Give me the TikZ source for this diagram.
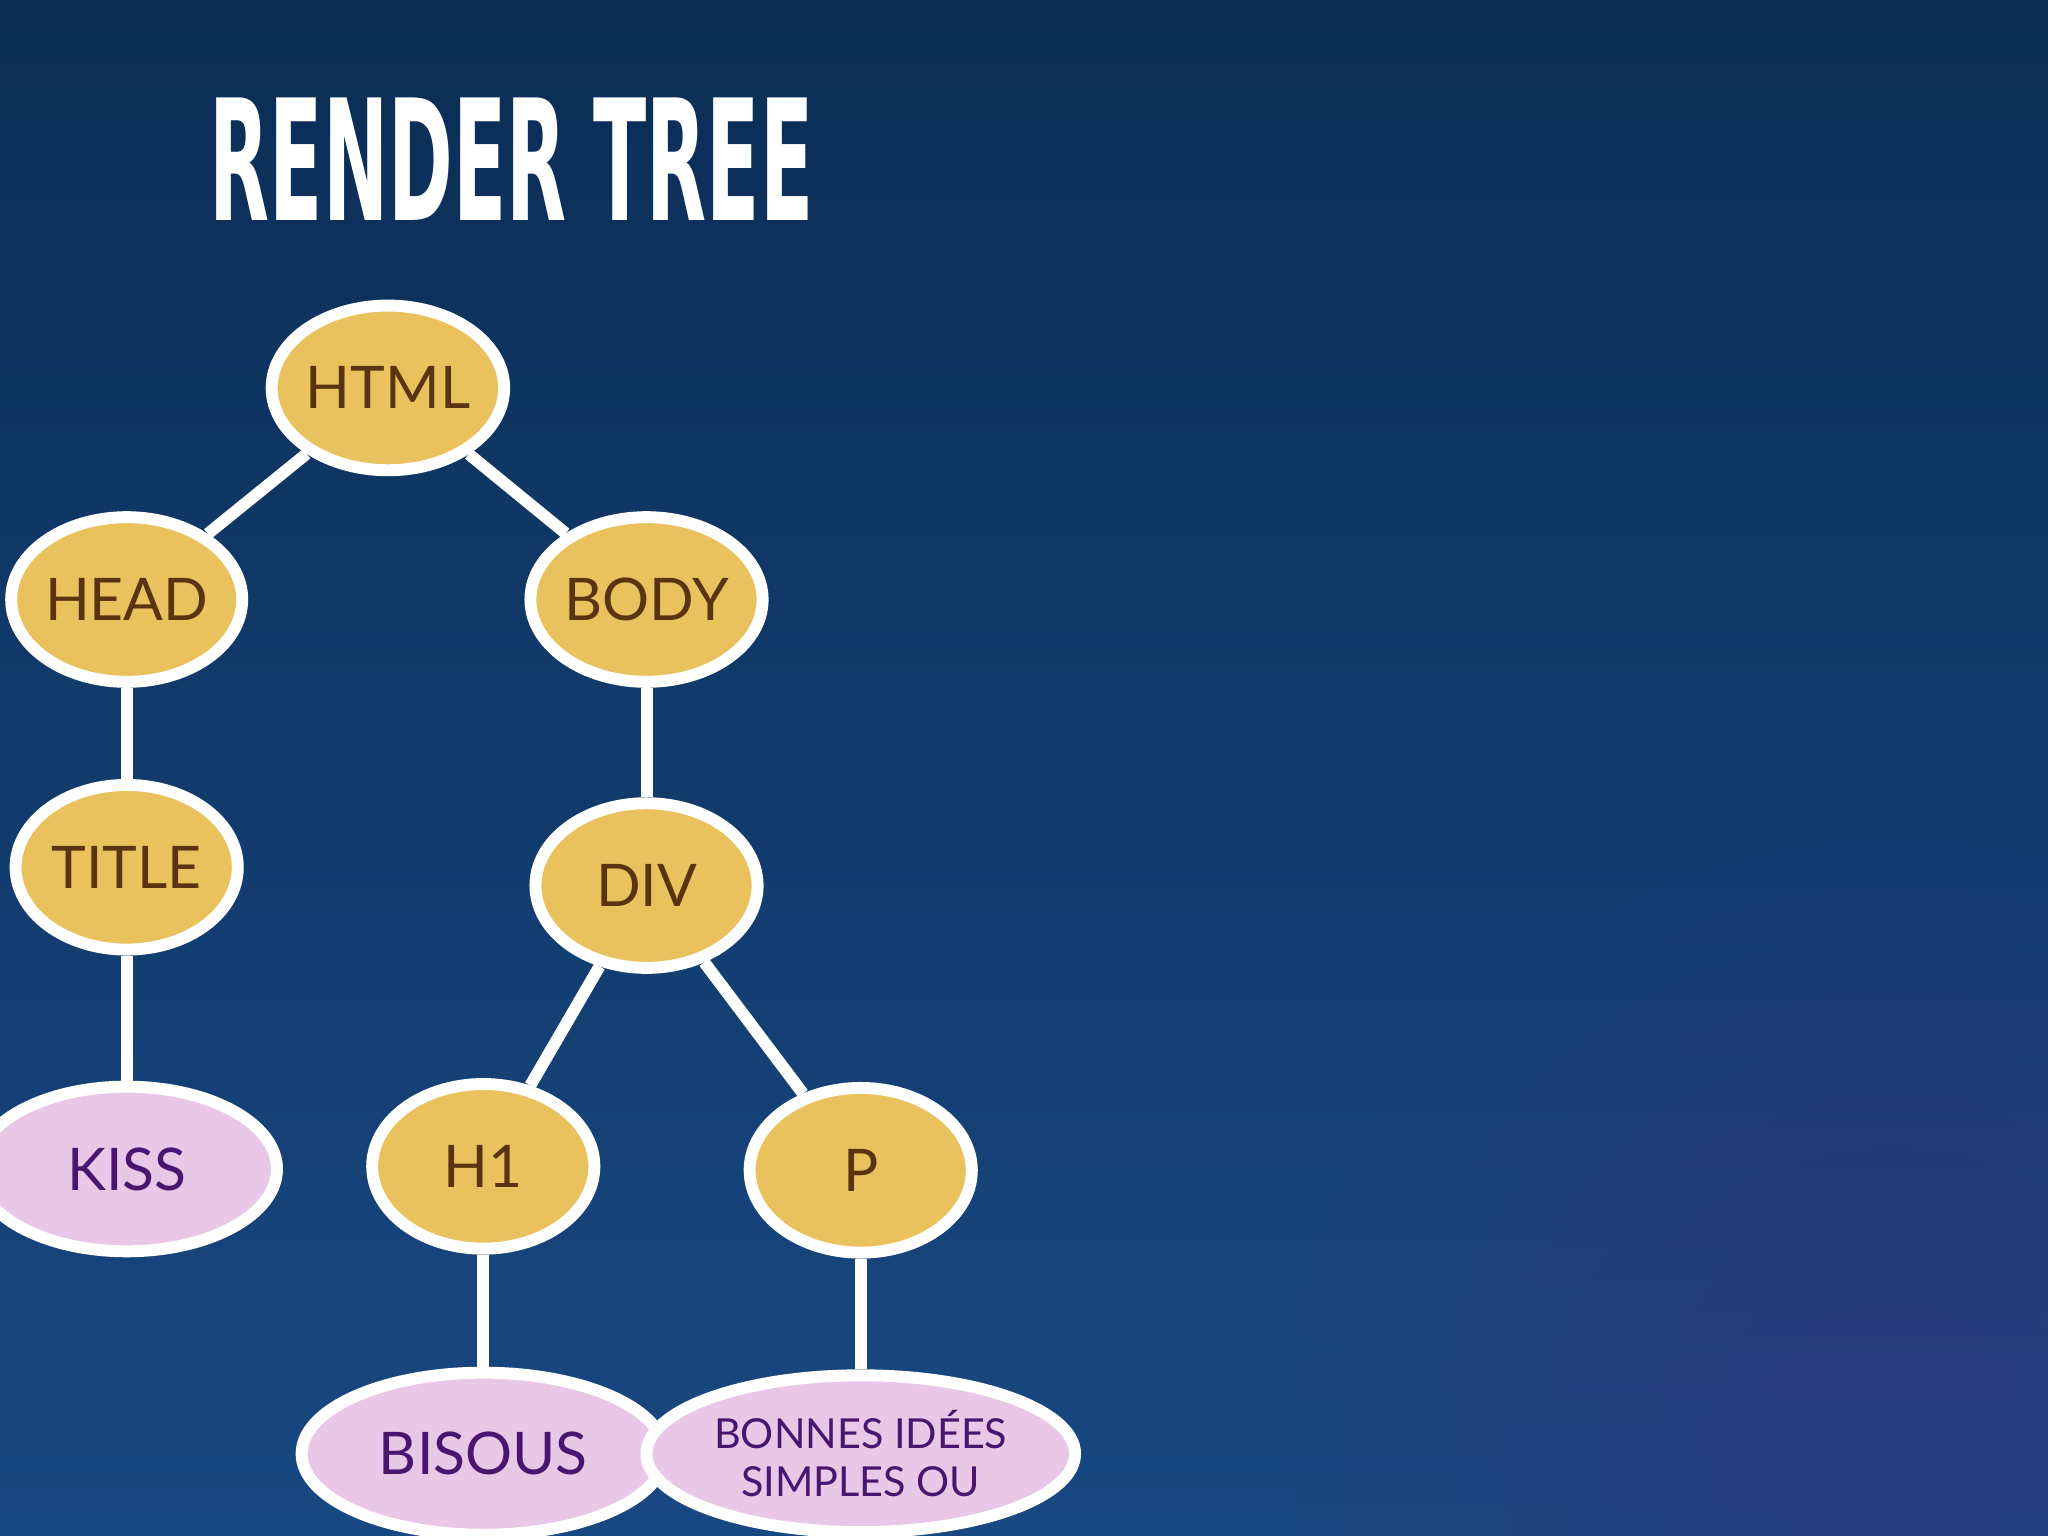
\documentclass[tikz,border=0pt]{standalone}
\usepackage{fontspec}
\setmainfont{Lato}
\newfontfamily\titlefont{DejaVu Sans Condensed}
\usetikzlibrary{shapes.geometric}
\definecolor{gold}{HTML}{E9C25E}
\definecolor{goldtext}{HTML}{5A3410}
\definecolor{pinkf}{HTML}{E8C8E6}
\definecolor{purpletext}{HTML}{4A1570}
\definecolor{glow}{HTML}{3A3A80}
\pgfdeclarelayer{back}\pgfdeclarelayer{edge}
\pgfsetlayers{back,edge,main}
\tikzset{
 tag/.style={ellipse,draw=white,line width=2.6pt,fill=gold,text=goldtext,inner sep=0pt,minimum width=1.70cm,minimum height=1.26cm,font=\fontsize{12.8}{12.8}\selectfont},
 txt/.style={tag,fill=pinkf,text=purpletext},
 link/.style={draw=white,line width=2.6pt}
}
\begin{document}
\begin{tikzpicture}[x=0.01cm,y=-0.01cm]
\useasboundingbox (0,0) rectangle (1568,1176);
\clip (0,0) rectangle (1568,1176);
\begin{pgfonlayer}{back}
\shade[top color={rgb,255:red,11;green,45;blue,85},bottom color={rgb,255:red,24;green,72;blue,130}] (0,0) rectangle (1568,1176);
\foreach \r in {1.0,1.4,...,4.6}{\fill[glow,opacity=0.07] (1450,1100) circle (\r cm);}
\end{pgfonlayer}
\node[anchor=west,text=white,inner sep=0pt] (title) at (160,122) {\titlefont\bfseries\fontsize{37}{37}\selectfont\scalebox{0.51}[0.99]{RENDER TREE}};
\node[tag] (html) at (297,297) {HTML};
\node[tag] (head) at (97,459) {HEAD};
\node[tag] (body) at (495,459) {BODY};
\node[tag] (titlen) at (97,664) {TITLE};
\node[tag] (div) at (495,678) {DIV};
\node[txt,minimum width=2.30cm] (kiss) at (97,895) {KISS};
\node[tag] (hi) at (370,893) {H1};
\node[tag] (p) at (659,896) {P};
\node[txt,minimum width=2.78cm,minimum height=1.24cm] (bisous) at (370,1113) {BISOUS};
\node[txt,minimum width=3.28cm,minimum height=1.20cm,align=center,font=\fontsize{9}{10.5}\selectfont] (bonnes) at (659,1113) {BONNES IDÉES\\SIMPLES OU};
\begin{pgfonlayer}{edge}
\draw[link] (html)--(head);
\draw[link] (html)--(body);
\draw[link] (head)--(titlen);
\draw[link] (titlen)--(kiss);
\draw[link] (body)--(div);
\draw[link] (div)--(hi);
\draw[link] (div)--(p);
\draw[link] (hi)--(bisous);
\draw[link] (p)--(bonnes);
\end{pgfonlayer}
\end{tikzpicture}
\end{document}
